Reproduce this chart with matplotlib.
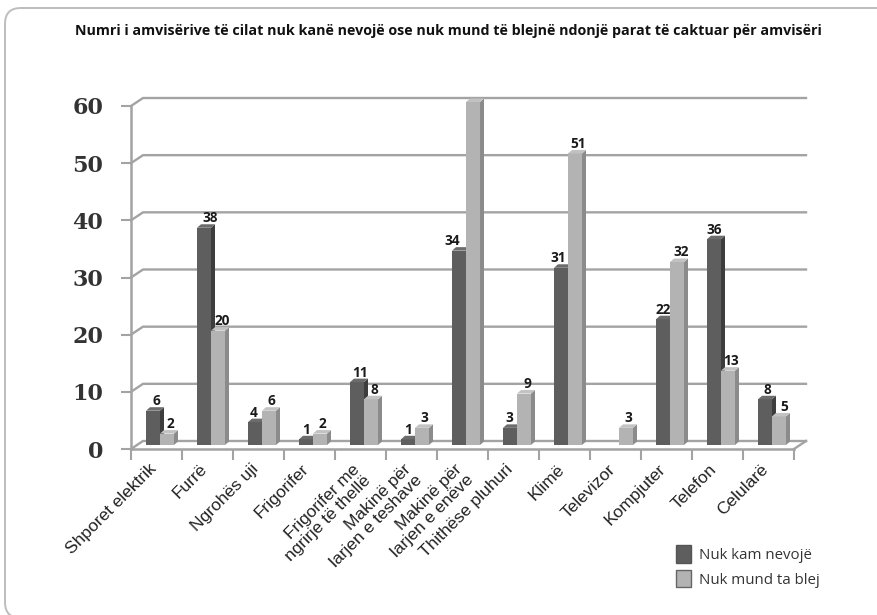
import matplotlib
matplotlib.use('Agg')
import matplotlib.pyplot as plt
from matplotlib.patches import FancyBboxPatch, Patch

categories = ['Shporet elektrik', 'Furrë', 'Ngrohës uji', 'Frigorifer',
              'Frigorifer me\nngrirje të thellë', 'Makinë për\nlarjen e teshave',
              'Makinë për\nlarjen e enëve', 'Thithëse pluhuri', 'Klimë', 'Televizor',
              'Kompjuter', 'Telefon', 'Celularë']
nuk_kam = [6, 38, 4, 1, 11, 1, 34, 3, 31, 0, 22, 36, 8]
nuk_mund = [2, 20, 6, 2, 8, 3, 60, 9, 51, 3, 32, 13, 5]
yticks = [0, 10, 20, 30, 40, 50, 60]

W, H = 878, 615
fig = plt.figure(figsize=(W / 100, H / 100), dpi=100)

# frame, only its top and left edges fall inside the picture
frame = FancyBboxPatch((5 / W, 1 - 618 / H), 900 / W, 610 / H,
                       boxstyle='round,pad=0,rounding_size=0.018', transform=fig.transFigure,
                       fc='white', ec='#bdbdbd', lw=1.4, mutation_aspect=W / H, zorder=-1)
fig.patches.append(frame)

ax = fig.add_axes([131 / W, 1 - 449 / H, 663 / W, 343 / H])
ax.patch.set_alpha(0)
ax.set_xlim(0, 13)
ax.set_ylim(0, 60)

px = 13 / 663       # one pixel in x units
py = 60 / 343       # one pixel in y units
wall_x = 12 * px
wall_y = 8 * py
grey = '#a3a3a3'

for s in ['top', 'right']:
    ax.spines[s].set_visible(False)
for s in ['left', 'bottom']:
    ax.spines[s].set_color(grey)
    ax.spines[s].set_linewidth(1.8)

# back wall and floor
for v in yticks:
    ax.plot([0, wall_x, 13 + wall_x], [v, v + wall_y, v + wall_y],
            color=grey, lw=1.7, clip_on=False, zorder=1)
ax.plot([13, 13 + wall_x], [0, wall_y], color=grey, lw=1.7, clip_on=False, zorder=1)

# bars with a fake 3d depth
base = 4 * py
bw = 14 * px
dx = 4 * px
dy = 3.5 * py
start = 15 * px

# the value labels do not sit centred on every bar in the original
kam_shift = [3, 6, -1, 0, 3, 0, -7, -1, -3, 0, 0, 0, 2]
mund_shift = [3, 4, 2, 2, 3, 2, 4, 3, 3, 2, 4, 3, 5]


def bar3d(x, v, front, side, top, z):
    ax.bar(x, v, bw, bottom=base, align='edge', color=front, zorder=z, clip_on=False)
    y0, y1 = base, base + v
    ax.fill([x + bw, x + bw + dx, x + bw + dx, x + bw], [y0, y0 + dy, y1 + dy, y1],
            color=side, lw=0, zorder=z, clip_on=False)
    ax.fill([x, x + dx, x + bw + dx, x + bw], [y1, y1 + dy, y1 + dy, y1],
            color=top, lw=0, zorder=z, clip_on=False)


def value_label(x, v, shift):
    ax.annotate(str(v), (x + bw / 2, base + v + dy), xytext=(shift * 0.72, 1.5),
                textcoords='offset points', ha='center', va='baseline', fontsize=9.8,
                fontweight='bold', family='Open Sans', color='#1a1a1a', zorder=6)


for i in range(len(categories)):
    x1 = i + start
    x2 = x1 + bw
    if nuk_kam[i] > 0:
        bar3d(x1, nuk_kam[i], '#5e5e5e', '#3d3d3d', '#6c6c6c', 3)
        value_label(x1, nuk_kam[i], kam_shift[i])
    bar3d(x2, nuk_mund[i], '#b3b3b3', '#8b8b8b', '#c2c2c2', 4)
    value_label(x2, nuk_mund[i], mund_shift[i])

# axes ticks
ax.set_yticks(yticks)
ax.set_yticklabels([str(v) for v in yticks], family='DejaVu Serif', fontweight='bold',
                   fontsize=16, color='#333333')
ax.tick_params(axis='y', length=7, width=1.5, color=grey, pad=13)
ax.set_xticks(range(14))
ax.set_xticklabels([])
ax.tick_params(axis='x', which='major', length=8, width=1.5, color=grey)
ax.set_xticks([i + 0.34 for i in range(13)], minor=True)
ax.set_xticklabels(categories, minor=True, rotation=45, ha='right', va='top',
                   rotation_mode='anchor', family='Liberation Sans', fontsize=12.5,
                   color='#222222', linespacing=1.05)
ax.tick_params(axis='x', which='minor', length=0, pad=9)

fig.text(448 / W, 1 - 31 / H, 'Numri i amvisërive të cilat nuk kanë nevojë ose nuk mund të blejnë ndonjë parat të caktuar për amvisëri',
         ha='center', va='center', family='Open Sans', fontweight='bold', fontsize=10.3, color='#111111')

handles = [Patch(fc='#5e5e5e', ec='#555555', label='Nuk kam nevojë'),
           Patch(fc='#b3b3b3', ec='#666666', label='Nuk mund ta blej')]
fig.legend(handles=handles, loc='upper left', bbox_to_anchor=(663 / W, 1 - 532 / H),
           frameon=False, prop={'family': 'Open Sans', 'size': 10.8}, handlelength=1.0,
           handleheight=1.4, handletextpad=0.5, labelspacing=0.45, labelcolor='#333333')

fig.savefig('out.png', dpi=100)
